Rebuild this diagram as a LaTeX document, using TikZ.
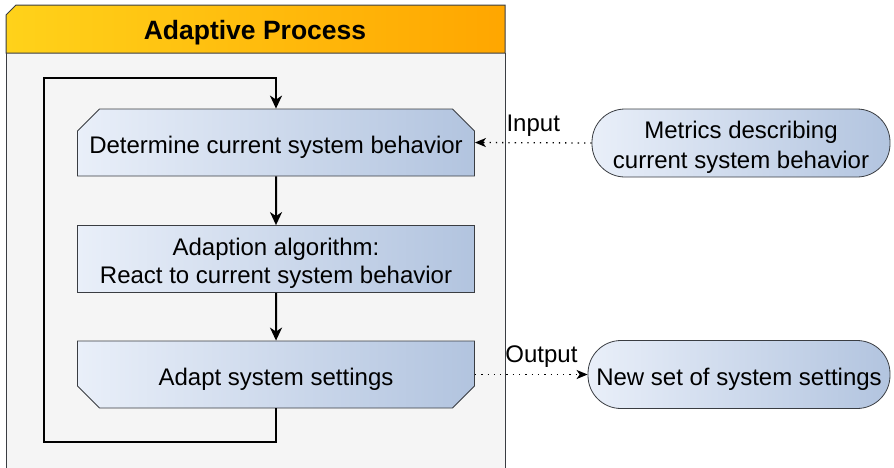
\documentclass[tikz,border=0pt]{standalone}
\usepackage{fontspec}
\setmainfont{Liberation Sans}
\usetikzlibrary{arrows.meta,shapes.misc}

\definecolor{hdrL}{HTML}{FFD21A}
\definecolor{hdrR}{HTML}{FFA600}
\definecolor{stepL}{HTML}{E9EFF9}
\definecolor{stepR}{HTML}{B2C4DF}
\definecolor{edgegray}{HTML}{3A3D42}
\definecolor{panel}{HTML}{F5F5F5}

% a tall strut on the first line sets the text a little lower in its box
\newcommand\topstrut{\rule{0pt}{26pt}}

\tikzset{
  txt/.style={font=\fontsize{24}{28}\selectfont},
  shade/.style={left color=stepL, right color=stepR},
  stepbox/.style={txt, shade, draw=edgegray, line width=0.8pt,
    minimum width=397pt, minimum height=67pt, inner sep=0pt, align=center},
  cutbox/.style={stepbox, chamfered rectangle, chamfered rectangle xsep=11pt,
    chamfered rectangle ysep=11pt},
  pill/.style={txt, shade, draw=edgegray, line width=0.8pt, rectangle,
    rounded corners=33pt, minimum height=68pt, inner sep=0pt, align=center},
  flow/.style={line width=2pt, draw=black,
    -{Stealth[length=13pt, width=12pt, inset=4pt]}},
  signal/.style={line width=1.3pt, dash pattern=on 1.3pt off 5pt,
    -{Stealth[length=11pt, width=9pt, inset=3pt]}},
  lbl/.style={txt, anchor=base, inner sep=0pt}
}

\begin{document}
\begin{tikzpicture}[x=1pt, y=-1pt]
  \useasboundingbox (0,0) rectangle (894,467);

  % container: panel body and header bar
  \fill[panel] (6,53) rectangle (505,475);
  \draw[edgegray, line width=1pt] (6,53) -- (6,475);
  \draw[edgegray, line width=1pt] (505,53) -- (505,475);
  \shade[left color=hdrL, right color=hdrR]
    (6,15) -- (16,5) -- (505,5) -- (505,53) -- (6,53) -- cycle;
  \draw[edgegray, line width=1pt]
    (6,53) -- (6,15) -- (16,5) -- (505,5) -- (505,53) -- cycle;
  \node[font=\fontsize{26.5}{30}\selectfont\bfseries, inner sep=0pt] (title)
    at (255,32.5) {Adaptive Process};

  % process steps
  \node[cutbox, chamfered rectangle corners={north west, north east}] (sense)
    at (276,142.5) {\topstrut Determine current system behavior};
  \node[stepbox] (adapt) at (276,259)
    {\topstrut Adaption algorithm:\\React to current system behavior};
  \node[cutbox, chamfered rectangle corners={south west, south east}] (apply)
    at (276,374.5) {\topstrut Adapt system settings};

  % external data
  \node[pill, minimum width=298pt] (metrics) at (741,143)
    {\topstrut Metrics describing\\[2pt]current system behavior};
  \node[pill, minimum width=302pt] (settings) at (739,374.5)
    {\topstrut New set of system settings};

  % main flow and feedback loop
  \draw[flow] (sense) -- (adapt);
  \draw[flow] (adapt) -- (apply);
  \coordinate (loopA) at (276,442);
  \coordinate (loopB) at (44,442);
  \coordinate (loopC) at (44,78);
  \coordinate (loopD) at (276,78);
  \draw[flow] (apply.south) -- (loopA) -- (loopB) -- (loopC) -- (loopD) -- (sense.north);

  % input and output signals
  \draw[signal] (metrics.west) -- (sense.east)
    node[lbl, pos=0.5, yshift=11pt] {Input};
  \draw[signal] (apply.east) -- (settings.west)
    node[lbl, pos=0.59, yshift=12pt] {Output};
\end{tikzpicture}
\end{document}
